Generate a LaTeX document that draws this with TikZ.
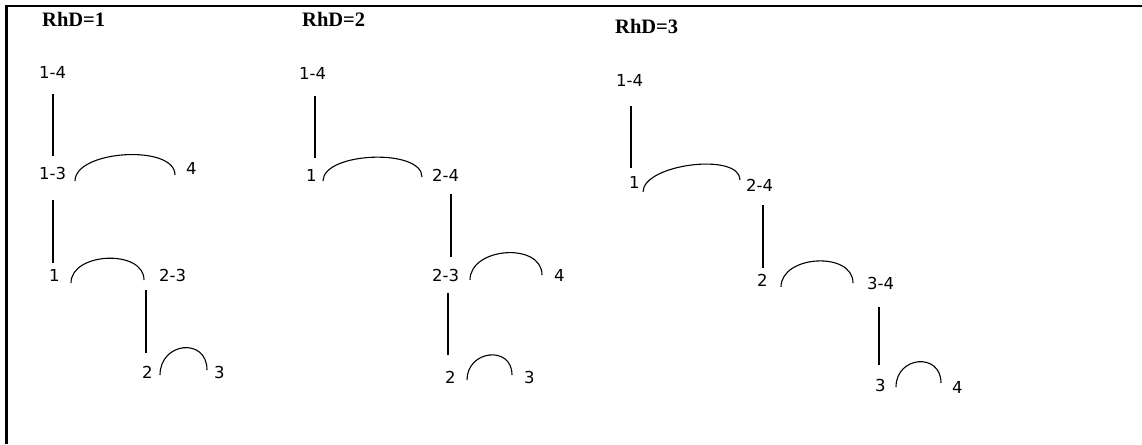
\documentclass[tikz,border=0pt]{standalone}
\usepackage{fontspec}
\setmainfont{DejaVu Sans}
\newfontfamily\titlefont{Liberation Serif}
\begin{document}
\begin{tikzpicture}[x=1pt,y=-1pt,
  lbl/.style={inner sep=0pt,anchor=base west,font=\fontsize{16.5}{16.5}\selectfont},
  ttl/.style={inner sep=0pt,anchor=base west,font=\titlefont\bfseries\fontsize{20.5}{20.5}\selectfont},
  vline/.style={line width=1.6pt},
  hump/.style={line width=1.1pt}]
\useasboundingbox (0,0) rectangle (1142,444);
\fill[white] (0,0) rectangle (1142,444);
% frame (top and left edges only)
\draw[line width=2.8pt] (6.3,444) -- (6.3,6) -- (1142,6);

% ---------- Panel 1 ----------
\node[ttl] (t1) at (42,27) {RhD=1};
\node[lbl] (p1a) at (39,78) {1-4};
\node[lbl] (p1b) at (39,179) {1-3};
\node[lbl] (p1c) at (186,174) {4};
\node[lbl] (p1d) at (49,281) {1};
\node[lbl] (p1e) at (159,281) {2-3};
\node[lbl] (p1f) at (142,378) {2};
\node[lbl] (p1g) at (214,378) {3};
\draw[vline] ([shift={(14,16)}]p1a.base west) -- ([shift={(14,-23)}]p1b.base west);
\draw[vline] ([shift={(14,21)}]p1b.base west) -- ([shift={(4,-18)}]p1d.base west);
\draw[vline] ([shift={(-13,9)}]p1e.base west) -- ([shift={(4,-25)}]p1f.base west);
\draw[hump] ([shift={(36,2)}]p1b.base west) .. controls +(0,-31) and +(0,-31) .. ([shift={(-11,1)}]p1c.base west);
\draw[hump] ([shift={(22,2)}]p1d.base west) .. controls +(0,-31) and +(0,-31) .. ([shift={(-15,-1)}]p1e.base west);
\draw[hump] ([shift={(18,-3)}]p1f.base west) .. controls +(0,-33) and +(0,-33) .. ([shift={(-7,-8)}]p1g.base west);

% ---------- Panel 2 ----------
\node[ttl] (t2) at (302,27) {RhD=2};
\node[lbl] (q1) at (299,79) {1-4};
\node[lbl] (q2) at (306,181) {1};
\node[lbl] (q3) at (432,181) {2-4};
\node[lbl] (q4) at (432,281) {2-3};
\node[lbl] (q5) at (554,281) {4};
\node[lbl] (q6) at (445,383) {2};
\node[lbl] (q7) at (524,383) {3};
\draw[vline] ([shift={(16,17)}]q1.base west) -- ([shift={(9,-23)}]q2.base west);
\draw[vline] ([shift={(19,13)}]q3.base west) -- ([shift={(19,-24)}]q4.base west);
\draw[vline] ([shift={(16,12)}]q4.base west) -- ([shift={(3,-28)}]q6.base west);
\draw[hump] ([shift={(17,0)}]q2.base west) .. controls +(0,-29) and +(0,-29) .. ([shift={(-10,-4)}]q3.base west);
\draw[hump] ([shift={(38,-1)}]q4.base west) .. controls +(0,-33) and +(0,-33) .. ([shift={(-12,-6)}]q5.base west);
\draw[hump] ([shift={(22,-3)}]q6.base west) .. controls +(0,-30) and +(0,-30) .. ([shift={(-12,-8)}]q7.base west);

% ---------- Panel 3 ----------
\node[ttl] (t3) at (615,34) {RhD=3};
\node[lbl] (r1) at (616,86) {1-4};
\node[lbl] (r2) at (629,188) {1};
\node[lbl] (r3) at (746,191) {2-4};
\node[lbl] (r4) at (757,286) {2};
\node[lbl] (r5) at (867,289) {3-4};
\node[lbl] (r6) at (875,391) {3};
\node[lbl] (r7) at (952,393) {4};
\draw[vline] ([shift={(15,20)}]r1.base west) -- ([shift={(2,-20)}]r2.base west);
\draw[vline] ([shift={(17,14)}]r3.base west) -- ([shift={(6,-18)}]r4.base west);
\draw[vline] ([shift={(12,18)}]r5.base west) -- ([shift={(4,-26)}]r6.base west);
\draw[hump] ([shift={(14,4)}]r2.base west) .. controls +(0,-28) and +(0,-28) .. ([shift={(-6,-11)}]r3.base west);
\draw[hump] ([shift={(24,1)}]r4.base west) .. controls +(0,-32) and +(0,-32) .. ([shift={(-14,-6)}]r5.base west);
\draw[hump] ([shift={(21,-4)}]r6.base west) .. controls +(0,-31) and +(0,-31) .. ([shift={(-11,-10)}]r7.base west);
\end{tikzpicture}
\end{document}
